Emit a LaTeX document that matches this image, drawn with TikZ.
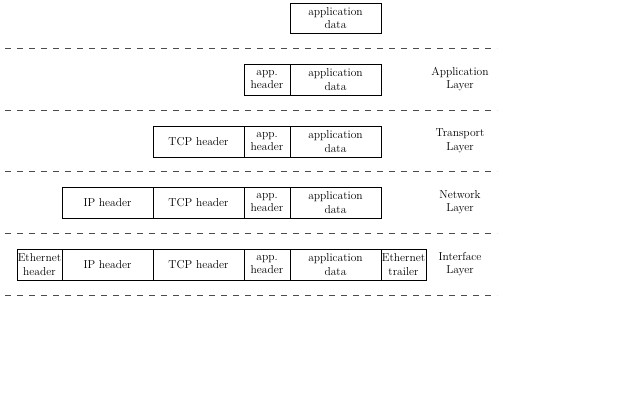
\documentclass[tikz,border=0pt]{standalone}
\usetikzlibrary{positioning}
\begin{document}
\begin{tikzpicture}[x=1pt, y=-1pt,
    every node/.style={font=\fontsize{11.5}{13.5}\selectfont},
    field/.style={draw, align=center, minimum height=31pt, inner sep=0pt, outer sep=0pt},
    wide/.style={field, minimum width=91pt},
    narrow/.style={field, minimum width=46pt},
    layername/.style={align=center}]
  \useasboundingbox (0,0) rectangle (640,400);

  % Linee tratteggiate tra i livelli
  \foreach \y in {48, 110, 171, 233, 295}
    \draw[black!70, dash pattern=on 6pt off 6pt] (5,\y) -- (497,\y);

  % Dati dell'applicazione
  \node[wide, minimum height=30pt, anchor=north west] (data0) at (290,3) {application\\data};

  % Livello applicazione
  \node[wide, anchor=north west] (data1) at (290,64) {application\\data};
  \node[narrow, left=0pt of data1] (app1) {app.\\header};
  \node[layername] (lapp) at (460,79) {Application\\Layer};

  % Livello trasporto
  \node[wide, anchor=north west] (data2) at (290,126) {application\\data};
  \node[narrow, left=0pt of data2] (app2) {app.\\header};
  \node[wide, left=0pt of app2] (tcp2) {TCP header};
  \node[layername] (ltrans) at (460,141) {Transport\\Layer};

  % Livello rete
  \node[wide, anchor=north west] (data3) at (290,187) {application\\data};
  \node[narrow, left=0pt of data3] (app3) {app.\\header};
  \node[wide, left=0pt of app3] (tcp3) {TCP header};
  \node[wide, left=0pt of tcp3] (ip3) {IP header};
  \node[layername] (lnet) at (460,202) {Network\\Layer};

  % Livello interfaccia
  \node[wide, anchor=north west] (data4) at (290,249) {application\\data};
  \node[narrow, left=0pt of data4] (app4) {app.\\header};
  \node[wide, left=0pt of app4] (tcp4) {TCP header};
  \node[wide, left=0pt of tcp4] (ip4) {IP header};
  \node[field, minimum width=45pt, left=0pt of ip4] (eth4) {Ethernet\\header};
  \node[field, minimum width=45pt, right=0pt of data4] (trail4) {Ethernet\\trailer};
  \node[layername] (lint) at (460,264) {Interface\\Layer};
\end{tikzpicture}
\end{document}
